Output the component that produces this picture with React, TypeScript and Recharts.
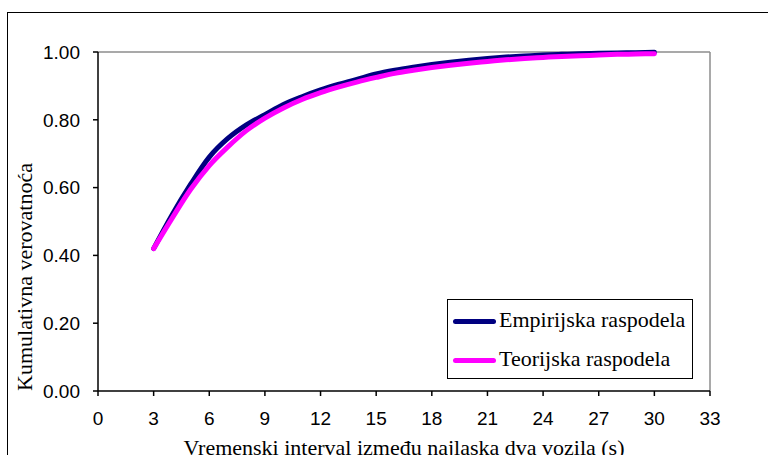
import { Line, LineChart, ReferenceLine, XAxis, YAxis } from 'recharts'

const NAVY = '#000080'
const MAGENTA = '#FF00FF'

const T = [3, 4, 5, 6, 7, 8, 9, 10, 11, 12, 13, 14, 15, 16, 17, 18, 19, 20, 21, 22, 23, 24, 25, 26, 27, 28, 29, 30]
const EMPIRIJSKA = [0.42, 0.52, 0.61, 0.69, 0.745, 0.785, 0.815, 0.845, 0.868, 0.888, 0.905, 0.92, 0.935, 0.946, 0.955, 0.963, 0.97, 0.976, 0.981, 0.985, 0.988, 0.991, 0.993, 0.995, 0.996, 0.997, 0.998, 0.999]
const TEORIJSKA = [0.42, 0.51, 0.595, 0.665, 0.72, 0.768, 0.805, 0.835, 0.86, 0.88, 0.897, 0.912, 0.925, 0.937, 0.946, 0.954, 0.961, 0.967, 0.972, 0.977, 0.981, 0.984, 0.987, 0.989, 0.991, 0.993, 0.994, 0.995]
const X_TICKS = [0, 3, 6, 9, 12, 15, 18, 21, 24, 27, 30, 33]
const Y_TICKS = [0, 0.2, 0.4, 0.6, 0.8, 1]

const SERIF = '"Liberation Serif", "Times New Roman", serif'
const SANS = '"Liberation Sans", Arial, sans-serif'

export default function App () {
  const data = T.map((t, i) => ({
    t,
    emp: EMPIRIJSKA[i],
    teo: TEORIJSKA[i]
  }))

  const tick = { fontSize: 19, fill: '#000', fontFamily: SANS }

  return (
    <div style={{ position: 'absolute', left: 0, top: 0, width: 768, height: 455, overflow: 'hidden', background: '#fff' }}>
      <div style={{ position: 'absolute', left: 7, top: 12, width: 820, height: 520, border: '1.5px solid #000', boxSizing: 'border-box' }} />
      <div style={{ position: 'absolute', left: 0, top: 0 }}>
        <LineChart
          width={768}
          height={455}
          data={data}
          margin={{ top: 52, right: 58, bottom: 34, left: 38 }}
        >
          <ReferenceLine y={1} stroke='#8c8c8c' strokeWidth={1.5} />
          <ReferenceLine x={33} stroke='#8c8c8c' strokeWidth={1.5} />
          <XAxis
            type='number'
            dataKey='t'
            domain={[0, 33]}
            ticks={X_TICKS}
            interval={0}
            height={30}
            tick={tick}
            tickSize={5}
            tickMargin={16}
            axisLine={{ stroke: '#000', strokeWidth: 1.5 }}
            tickLine={{ stroke: '#000', strokeWidth: 1.5 }}
          />
          <YAxis
            type='number'
            domain={[0, 1]}
            ticks={Y_TICKS}
            interval={0}
            width={60}
            tick={tick}
            tickSize={5}
            tickMargin={13}
            tickFormatter={(v: number) => v.toFixed(2)}
            axisLine={{ stroke: '#000', strokeWidth: 1.5 }}
            tickLine={{ stroke: '#000', strokeWidth: 1.5 }}
          />
          <Line
            type='monotone'
            dataKey='emp'
            name='Empirijska raspodela'
            stroke={NAVY}
            strokeWidth={5}
            strokeLinecap='round'
            dot={false}
            isAnimationActive={false}
          />
          <Line
            type='monotone'
            dataKey='teo'
            name='Teorijska raspodela'
            stroke={MAGENTA}
            strokeWidth={5}
            strokeLinecap='round'
            dot={false}
            isAnimationActive={false}
          />
        </LineChart>
      </div>

      {/* legenda */}
      <div style={{ position: 'absolute', left: 447, top: 299, width: 246, height: 80, border: '1px solid #000', boxSizing: 'border-box', background: '#fff' }}>
        <div style={{ position: 'absolute', left: 5, top: 19, width: 43, height: 5, borderRadius: 3, background: NAVY }} />
        <div style={{ position: 'absolute', left: 51, top: 7, fontFamily: SERIF, fontSize: 22, lineHeight: '26px', whiteSpace: 'nowrap', color: '#000' }}>Empirijska raspodela</div>
        <div style={{ position: 'absolute', left: 5, top: 58, width: 43, height: 5, borderRadius: 3, background: MAGENTA }} />
        <div style={{ position: 'absolute', left: 51, top: 46, fontFamily: SERIF, fontSize: 22, lineHeight: '26px', whiteSpace: 'nowrap', color: '#000' }}>Teorijska raspodela</div>
      </div>

      {/* naslovi osa */}
      <div style={{ position: 'absolute', left: 404, top: 435, transform: 'translateX(-50%)', fontFamily: SERIF, fontSize: 22, lineHeight: '26px', whiteSpace: 'nowrap', color: '#000' }}>
        Vremenski interval između najlaska dva vozila (s)
      </div>
      <div style={{ position: 'absolute', left: 25, top: 277, transform: 'translate(-50%, -50%) rotate(-90deg)', fontFamily: SERIF, fontSize: 22, lineHeight: '26px', whiteSpace: 'nowrap', color: '#000' }}>
        Kumulativna verovatnoća
      </div>
    </div>
  )
}
